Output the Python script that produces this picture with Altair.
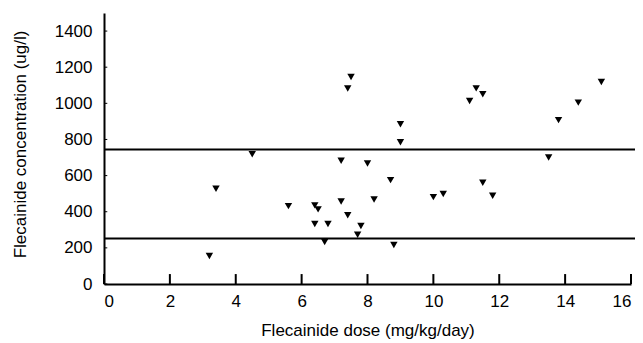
import altair as alt
import pandas as pd

dose = [3.2, 3.4, 4.5, 5.6, 6.4, 6.5, 6.4, 6.8, 6.7, 7.2, 7.2, 7.4, 7.4, 7.5, 7.8, 7.7, 8.0,
        8.2, 8.7, 8.8, 9.0, 9.0, 10.0, 10.3, 11.1, 11.3, 11.5, 11.5, 11.8, 13.5, 13.8, 14.4, 15.1]
conc = [155, 527, 718, 431, 435, 413, 332, 332, 232, 682, 457, 381, 1082, 1146, 321, 273, 667,
        468, 575, 216, 884, 785, 481, 498, 1013, 1083, 1050, 560, 488, 700, 907, 1004, 1118]
ref_levels = [745, 252]
x_ticks = [0, 2, 4, 6, 8, 10, 12, 14, 16]
y_ticks = [0, 200, 400, 600, 800, 1000, 1200, 1400]

W, H = 527, 271
FONT = "Liberation Sans"
FS = 17

pts = pd.DataFrame({"dose": dose, "conc": conc})
refs = pd.DataFrame({"level": ref_levels, "lx0": 0.0, "lx1": 16.2})
xt = pd.DataFrame({"xt": x_ticks, "ty0": 0, "ty1": 55})
yt = pd.DataFrame({"yt": y_ticks, "tx0": 0.0, "tx1": 0.1})

xscale = alt.Scale(domain=[0, 16], nice=False, zero=False)
yscale = alt.Scale(domain=[0, 1500], nice=False)

xaxis = alt.Axis(values=x_ticks, ticks=False, grid=False, domainColor="black", domainWidth=2,
                 labelFont=FONT, labelFontSize=FS, labelColor="black", labelPadding=9,
                 labelOverlap=False, format="d", zindex=0,
                 title="Flecainide dose (mg/kg/day)", titleFont=FONT, titleFontSize=FS,
                 titleFontWeight="normal", titleColor="black", titleY=46, titleBaseline="middle")
yaxis = alt.Axis(values=y_ticks, ticks=False, grid=False, domainColor="black", domainWidth=2,
                 labelFont=FONT, labelFontSize=FS, labelColor="black", labelPadding=12,
                 labelOverlap=False, format="d", zindex=0,
                 title="Flecainide concentration (ug/l)", titleFont=FONT, titleFontSize=FS,
                 titleFontWeight="normal", titleColor="black", titleX=-84, titleY=131,
                 titleAngle=-90, titleAlign="center", titleBaseline="middle")

xtick_marks = alt.Chart(xt).mark_rule(color="black", strokeWidth=2).encode(
    x=alt.X("xt:Q", scale=xscale, axis=xaxis),
    y=alt.Y("ty0:Q", scale=yscale, axis=yaxis), y2="ty1:Q",
)

ytick_marks = alt.Chart(yt).mark_rule(color="black", strokeWidth=1).encode(
    y=alt.Y("yt:Q", scale=yscale, axis=yaxis),
    x=alt.X("tx0:Q", scale=xscale, axis=xaxis), x2="tx1:Q",
)

lines = alt.Chart(refs).mark_rule(color="black", strokeWidth=2).encode(
    y=alt.Y("level:Q", scale=yscale, axis=yaxis),
    x=alt.X("lx0:Q", scale=xscale, axis=xaxis), x2="lx1:Q",
)

points = alt.Chart(pts).mark_point(shape="triangle-down", filled=True, color="black",
                                   opacity=1, size=55).encode(
    x=alt.X("dose:Q", scale=xscale, axis=xaxis),
    y=alt.Y("conc:Q", scale=yscale, axis=yaxis),
)

chart = alt.layer(xtick_marks, ytick_marks, lines, points).properties(
    width=W, height=H,
    autosize=alt.AutoSizeParams(type="none"),
    padding={"left": 96, "top": 5, "right": 4, "bottom": 58},
).configure(background="white", view=alt.ViewConfig(stroke=None, clip=False))

chart.save("out.html", embed_options={"renderer": "svg", "actions": False})
